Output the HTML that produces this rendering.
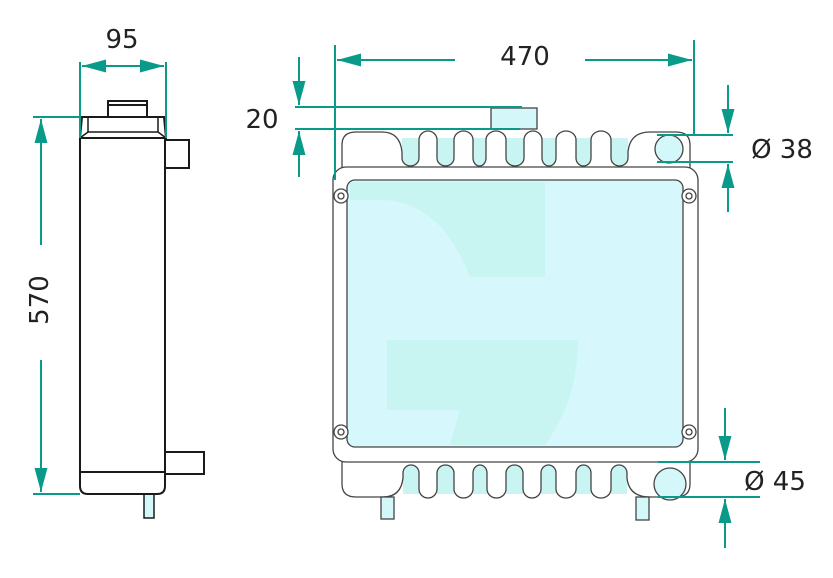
<!DOCTYPE html>
<html><head><style>body{margin:0;background:#fff}svg{display:block}text{font-family:"DejaVu Sans","Liberation Sans",sans-serif;fill:#222}</style></head><body>
<svg width="833" height="578" viewBox="0 0 833 578" xmlns="http://www.w3.org/2000/svg">
<defs>
<marker id="b" viewBox="0 0 10 10" refX="10" refY="5" markerWidth="24" markerHeight="24" markerUnits="userSpaceOnUse" orient="auto"><path d="M0 2.3 L10 5 L0 7.7Z" fill="#0a9a8a"/></marker>
</defs>
<g stroke="#1a1a1a" stroke-width="2" fill="#fff">
<rect x="108" y="101" width="39" height="16" fill="#fff"/>
<line x1="108" y1="105" x2="147" y2="105"/>
<rect x="165" y="140" width="24" height="28"/>
<rect x="165" y="452" width="39" height="22"/>
<rect x="144" y="494" width="10" height="24" fill="#d4f7fa" stroke-width="1.5"/>
<path d="M80 138 L80 486 Q80 494 88 494 L157 494 Q165 494 165 486 L165 138 Z"/>
<line x1="80" y1="472" x2="165" y2="472"/>
<path d="M82 117 L164 117 L166 138 L80 138 Z"/>
<path d="M88 117 L88 132 L158 132 L158 117" fill="none" stroke-width="1.5"/>
<path d="M80 138 L88 132 M166 138 L158 132" fill="none" stroke-width="1.5"/>
</g>
<g stroke="#444" stroke-width="1.3">
<g fill="#c8f4f2" stroke="none">
<rect x="402" y="138" width="17" height="28"/><rect x="437" y="138" width="17" height="28"/><rect x="473" y="138" width="13" height="28"/><rect x="506" y="138" width="18" height="28"/><rect x="542" y="138" width="14" height="28"/><rect x="576" y="138" width="15" height="28"/><rect x="611" y="138" width="17" height="28"/>
<rect x="403" y="462" width="16" height="32"/><rect x="437" y="462" width="17" height="32"/><rect x="473" y="462" width="14" height="32"/><rect x="506" y="462" width="17" height="32"/><rect x="541" y="462" width="15" height="32"/><rect x="576" y="462" width="15" height="32"/><rect x="611" y="462" width="16" height="32"/>
</g>
<rect x="491" y="108" width="46" height="21" fill="#d4f7fa"/>
<path fill="#fff" d="M342 172 L342 145 Q342 132 356 132 L382 132 Q400 132 402 152 L402 158 A8.5 8 0 0 0 419 158 L419 140 A9 9 0 0 1 437 140 L437 158 A8.5 8 0 0 0 454 158 L454 140 A9.5 9 0 0 1 473 140 L473 158 A6.5 8 0 0 0 486 158 L486 140 A10 9 0 0 1 506 140 L506 158 A9 8 0 0 0 524 158 L524 140 A9 9 0 0 1 542 140 L542 158 A7 8 0 0 0 556 158 L556 140 A10 9 0 0 1 576 140 L576 158 A7.5 8 0 0 0 591 158 L591 140 A10 9 0 0 1 611 140 L611 158 A8.5 8 0 0 0 628 158 L628 152 Q630 132 650 132 L676 132 Q690 132 690 145 L690 172 Z"/>
<path fill="#fff" d="M342 456 L342 484 Q342 497 356 497 L383 497 Q401 497 403 478 L403 473 A8 8 0 0 1 419 473 L419 489 A9 9 0 0 0 437 489 L437 473 A8.5 8 0 0 1 454 473 L454 489 A9.5 9 0 0 0 473 489 L473 473 A7 8 0 0 1 487 473 L487 489 A9.5 9 0 0 0 506 489 L506 473 A8.5 8 0 0 1 523 473 L523 489 A9 9 0 0 0 541 489 L541 473 A7.5 8 0 0 1 556 473 L556 489 A10 9 0 0 0 576 489 L576 473 A7.5 8 0 0 1 591 473 L591 489 A10 9 0 0 0 611 489 L611 473 A8 8 0 0 1 627 473 L627 478 Q629 497 650 497 L676 497 Q690 497 690 484 L690 456 Z"/>
<rect x="381" y="497" width="13" height="22" fill="#d4f7fa"/>
<rect x="636" y="497" width="13" height="23" fill="#d4f7fa"/>
<circle cx="669" cy="149" r="14" fill="#d4f7fa"/>
<circle cx="670" cy="484" r="16" fill="#d4f7fa"/>
<rect x="333" y="167" width="365" height="295" rx="13" fill="#fff"/>
<rect x="347" y="180" width="336" height="267" rx="8" fill="#d6f8fc"/>
<path d="M350 200 L380 200 Q440 200 470 277 L545 277 L545 182 L350 182 Z" fill="#c4f4ef" stroke="none" opacity=".8"/>
<path d="M387 340 L578 340 Q578 400 545 445 L450 445 L460 410 L387 410 Z" fill="#c4f4ef" stroke="none" opacity=".8"/>
<g fill="#fff"><circle cx="341" cy="196" r="7"/><circle cx="689" cy="196" r="7"/><circle cx="341" cy="432" r="7"/><circle cx="689" cy="432" r="7"/></g>
<g fill="none"><circle cx="341" cy="196" r="3"/><circle cx="689" cy="196" r="3"/><circle cx="341" cy="432" r="3"/><circle cx="689" cy="432" r="3"/></g>
</g>
<g stroke="#0a9a8a" stroke-width="2" fill="none">
<line x1="80" y1="62" x2="80" y2="138"/><line x1="166" y1="62" x2="166" y2="138"/>
<line x1="122" y1="66" x2="82" y2="66" marker-end="url(#b)"/><line x1="122" y1="66" x2="164" y2="66" marker-end="url(#b)"/>
<line x1="33" y1="117" x2="80" y2="117"/><line x1="33" y1="494" x2="80" y2="494"/>
<line x1="41" y1="245" x2="41" y2="119" marker-end="url(#b)"/><line x1="41" y1="360" x2="41" y2="492" marker-end="url(#b)"/>
<line x1="335" y1="45" x2="335" y2="180"/><line x1="694" y1="40" x2="694" y2="135"/>
<line x1="455" y1="60" x2="337" y2="60" marker-end="url(#b)"/><line x1="585" y1="60" x2="692" y2="60" marker-end="url(#b)"/>
<line x1="295" y1="107" x2="522" y2="107"/><line x1="295" y1="129" x2="520" y2="129"/>
<line x1="299" y1="57" x2="299" y2="105" marker-end="url(#b)"/><line x1="299" y1="177" x2="299" y2="131" marker-end="url(#b)"/>
<line x1="657" y1="135" x2="733" y2="135"/><line x1="657" y1="162" x2="733" y2="162"/>
<line x1="728" y1="85" x2="728" y2="133" marker-end="url(#b)"/><line x1="728" y1="212" x2="728" y2="164" marker-end="url(#b)"/>
<line x1="658" y1="462" x2="760" y2="462"/><line x1="658" y1="497" x2="760" y2="497"/>
<line x1="725" y1="408" x2="725" y2="460" marker-end="url(#b)"/><line x1="725" y1="548" x2="725" y2="499" marker-end="url(#b)"/>
</g>
<g font-size="26">
<text x="122" y="48" text-anchor="middle">95</text>
<text x="525" y="65" text-anchor="middle">470</text>
<text x="262" y="128" text-anchor="middle">20</text>
<text x="782" y="158" text-anchor="middle">Ø 38</text>
<text x="775" y="490" text-anchor="middle">Ø 45</text>
<text transform="translate(48 300) rotate(-90)" text-anchor="middle">570</text>
</g>
</svg>
</body></html>
